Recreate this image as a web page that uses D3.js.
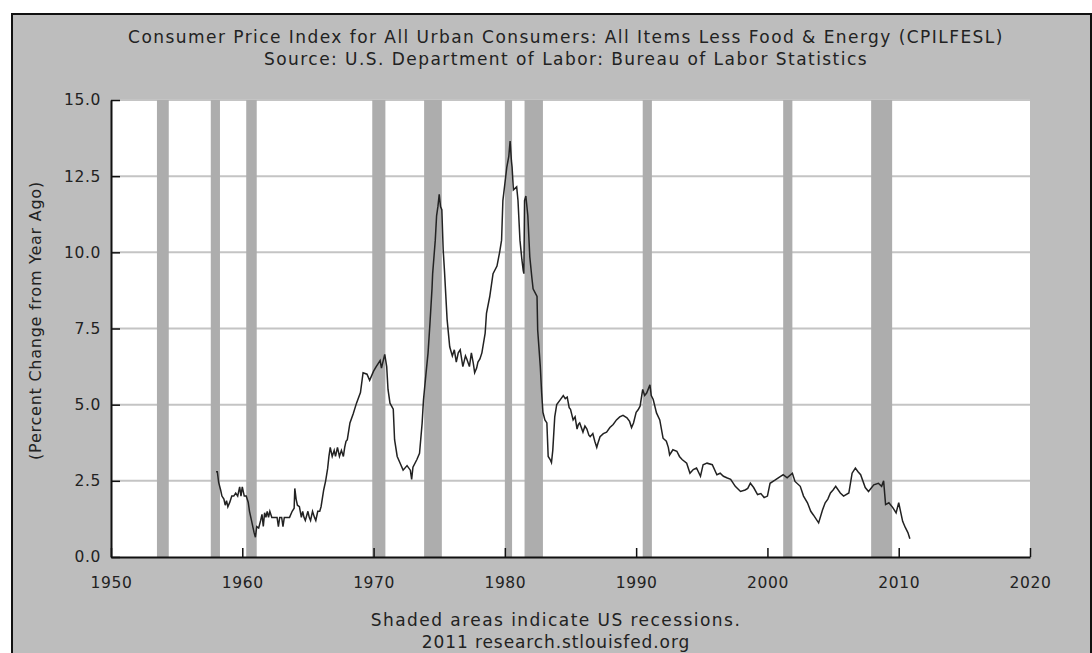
<!DOCTYPE html>
<html>
<head>
<meta charset="utf-8">
<script src="https://cdn.jsdelivr.net/npm/d3@7"></script>
<style>
  html, body { margin: 0; padding: 0; background: #ffffff; }
  svg { display: block; }
  text { font-family: "DejaVu Sans", Verdana, sans-serif; fill: #222; }
</style>
</head>
<body>
<svg id="chart" width="1092" height="653"></svg>
<script>
// ---- Data ----
const titleLines = [
  "Consumer Price Index for All Urban Consumers: All Items Less Food & Energy (CPILFESL)",
  "Source: U.S. Department of Labor: Bureau of Labor Statistics"
];
const footerLines = ["Shaded areas indicate US recessions.", "2011 research.stlouisfed.org"];
const yAxisLabel = "(Percent Change from Year Ago)";

const xTicks = [1950, 1960, 1970, 1980, 1990, 2000, 2010, 2020];
const yTicks = [0, 2.5, 5, 7.5, 10, 12.5, 15];

// US recessions (start, end) in decimal years
const recessionStart = [1953.5, 1957.6, 1960.3, 1969.9, 1973.85, 1980.0, 1981.5, 1990.5, 2001.2, 2007.9];
const recessionEnd   = [1954.4, 1958.3, 1961.1, 1970.9, 1975.2, 1980.55, 1982.9, 1991.2, 2001.9, 2009.5];

// Series: decimal date and percent change from year ago
const dates = [
  1958.0,1958.1,1958.2,1958.35,1958.45,1958.6,1958.7,1958.8,1958.9,1959.05,1959.2,1959.35,1959.5,1959.65,1959.8,1959.9,
  1960.0,1960.15,1960.3,1960.45,1960.55,1960.7,1960.8,1960.9,1961.0,1961.1,1961.25,1961.4,1961.5,1961.6,1961.7,1961.8,1961.9,
  1962.0,1962.1,1962.25,1962.5,1962.65,1962.75,1962.85,1963.0,1963.1,1963.2,1963.4,1963.6,1963.8,1963.95,
  1964.0,1964.1,1964.2,1964.35,1964.5,1964.6,1964.7,1964.8,1965.0,1965.1,1965.2,1965.35,1965.5,1965.6,1965.75,1965.9,
  1966.0,1966.2,1966.35,1966.5,1966.6,1966.7,1966.85,1967.0,1967.1,1967.25,1967.4,1967.55,1967.7,1967.8,1967.9,
  1968.0,1968.2,1968.45,1968.7,1969.0,1969.2,1969.5,1969.7,1970.0,1970.2,1970.5,1970.6,1970.85,1971.0,1971.1,1971.25,1971.5,1971.6,1971.8,1971.9,
  1972.0,1972.25,1972.55,1972.8,1972.9,1973.0,1973.3,1973.5,1973.7,1973.8,1974.0,1974.15,1974.3,1974.45,1974.5,1974.7,1974.8,1974.9,
  1975.0,1975.1,1975.2,1975.3,1975.4,1975.6,1975.8,1976.0,1976.15,1976.3,1976.45,1976.6,1976.8,1977.0,1977.1,1977.3,1977.45,1977.6,1977.7,1977.85,1977.95,
  1978.1,1978.25,1978.5,1978.6,1978.85,1979.1,1979.4,1979.6,1979.75,1979.85,1980.0,1980.15,1980.3,1980.4,1980.5,1980.55,1980.65,1980.9,
  1981.0,1981.15,1981.3,1981.4,1981.45,1981.5,1981.6,1981.75,1981.9,1982.05,1982.15,1982.45,1982.5,1982.7,1982.8,1982.9,
  1983.05,1983.2,1983.3,1983.45,1983.55,1983.65,1983.8,1983.95,1984.2,1984.45,1984.6,1984.75,1984.9,
  1985.0,1985.2,1985.35,1985.5,1985.6,1985.7,1985.95,1986.1,1986.25,1986.4,1986.5,1986.7,1986.85,
  1987.0,1987.1,1987.25,1987.5,1987.75,1988.0,1988.25,1988.5,1988.75,1989.0,1989.3,1989.5,1989.65,1989.8,
  1990.0,1990.15,1990.3,1990.5,1990.65,1990.8,1991.05,1991.15,1991.3,1991.55,1991.8,1992.05,1992.3,1992.45,1992.55,1992.8,
  1993.1,1993.3,1993.5,1993.85,1994.1,1994.35,1994.6,1994.9,1995.1,1995.4,1995.8,1996.15,1996.4,1996.65,1996.9,
  1997.2,1997.55,1997.95,1998.3,1998.5,1998.7,1998.95,1999.25,1999.5,1999.75,2000.0,2000.2,2000.6,2001.0,2001.2,2001.5,2001.9,
  2002.1,2002.5,2002.75,2003.05,2003.3,2003.5,2003.9,2004.2,2004.4,2004.6,2004.8,2005.0,2005.2,2005.55,2005.8,
  2006.2,2006.45,2006.7,2006.9,2007.1,2007.45,2007.7,2008.1,2008.45,2008.7,2008.85,2009.0,2009.25,2009.55,2009.8,
  2010.0,2010.3,2010.5,2010.7,2010.85
];
const values = [
  2.8,2.8,2.45,2.2,2.0,1.9,1.7,1.85,1.65,1.8,2.0,2.0,2.1,2.0,2.3,2.0,
  2.3,2.0,2.0,1.8,1.5,1.2,1.0,0.8,0.65,1.0,0.95,1.2,1.4,1.0,1.45,1.3,1.5,
  1.3,1.5,1.3,1.3,1.3,1.0,1.3,1.3,1.0,1.3,1.3,1.3,1.5,1.6,
  2.25,1.9,1.7,1.65,1.3,1.5,1.3,1.2,1.5,1.3,1.2,1.5,1.3,1.2,1.5,1.5,
  1.65,2.2,2.5,2.9,3.3,3.6,3.3,3.5,3.3,3.6,3.3,3.5,3.3,3.6,3.8,
  3.85,4.4,4.7,5.05,5.4,6.05,6.0,5.8,6.1,6.25,6.45,6.2,6.65,6.25,5.5,5.05,4.85,3.85,3.3,3.2,
  3.1,2.85,3.0,2.85,2.55,2.95,3.2,3.4,4.4,5.15,6.05,6.7,7.7,8.8,9.3,10.4,11.2,11.5,
  11.9,11.5,11.4,10.1,9.4,7.8,6.9,6.6,6.8,6.4,6.7,6.8,6.25,6.6,6.5,6.25,6.7,6.35,6.05,6.2,6.4,
  6.5,6.7,7.35,8.0,8.55,9.3,9.55,10.0,10.4,11.7,12.25,12.8,13.15,13.65,13.0,12.8,12.05,12.15,
  11.7,10.4,9.75,9.4,9.3,11.7,11.85,11.2,9.85,9.2,8.8,8.55,7.45,6.25,5.4,4.75,
  4.5,4.4,3.3,3.2,3.1,3.5,4.6,5.0,5.15,5.3,5.2,5.25,4.9,
  4.85,4.5,4.6,4.2,4.35,4.4,4.1,4.3,4.2,4.0,3.95,4.05,3.8,
  3.6,3.75,3.95,4.05,4.1,4.25,4.35,4.5,4.6,4.65,4.57,4.45,4.25,4.4,
  4.75,4.83,4.95,5.5,5.3,5.38,5.65,5.3,5.17,4.73,4.5,3.9,3.8,3.6,3.35,3.52,
  3.47,3.3,3.2,3.08,2.75,2.87,2.92,2.65,3.03,3.08,3.03,2.7,2.75,2.65,2.6,
  2.55,2.32,2.15,2.2,2.25,2.42,2.28,2.05,2.08,1.95,2.0,2.42,2.53,2.65,2.7,2.6,2.75,
  2.48,2.32,2.0,1.78,1.5,1.38,1.12,1.55,1.78,1.9,2.1,2.2,2.32,2.1,2.0,
  2.1,2.75,2.92,2.8,2.7,2.28,2.15,2.37,2.42,2.32,2.5,1.72,1.78,1.62,1.45,
  1.78,1.17,0.97,0.8,0.6
];

// ---- Drawing ----
const svg = d3.select("#chart");
const W = 1092, H = 653;
const plot = { left: 111, right: 1030, top: 100, bottom: 557 };

// outer panel
svg.append("rect")
  .attr("x", 12).attr("y", 14).attr("width", W - 13).attr("height", H)
  .attr("fill", "#bdbdbd").attr("stroke", "#111").attr("stroke-width", 2);

const x = d3.scaleLinear().domain([1950, 2020]).range([plot.left, plot.right]);
const y = d3.scaleLinear().domain([0, 15]).range([plot.bottom, plot.top]);

// plot background
svg.append("rect")
  .attr("x", plot.left).attr("y", plot.top)
  .attr("width", plot.right - plot.left).attr("height", plot.bottom - plot.top)
  .attr("fill", "#ffffff");

// gridlines
svg.append("g").selectAll("line").data(yTicks.filter(d => d > 0)).join("line")
  .attr("x1", plot.left).attr("x2", plot.right)
  .attr("y1", d => y(d)).attr("y2", d => y(d))
  .attr("stroke", "#c4c4c4").attr("stroke-width", 2);

// recession bands
svg.append("g").selectAll("rect").data(recessionStart.map((s, i) => [s, recessionEnd[i]])).join("rect")
  .attr("x", d => x(d[0])).attr("width", d => x(d[1]) - x(d[0]))
  .attr("y", plot.top).attr("height", plot.bottom - plot.top)
  .attr("fill", "#adadad");

// line
const pts = dates.map((d, i) => [d, values[i]]);
svg.append("path")
  .datum(pts)
  .attr("fill", "none").attr("stroke", "#222").attr("stroke-width", 1.5)
  .attr("stroke-linejoin", "miter")
  .attr("d", d3.line().x(d => x(d[0])).y(d => y(d[1])));

// axes
const yAxis = svg.append("g").attr("transform", `translate(${plot.left},0)`)
  .call(d3.axisLeft(y).tickValues(yTicks).tickFormat(d3.format(".1f")).tickSizeInner(-9).tickSizeOuter(0).tickPadding(20));
const xAxis = svg.append("g").attr("transform", `translate(0,${plot.bottom})`)
  .call(d3.axisBottom(x).tickValues(xTicks).tickFormat(d3.format("d")).tickSizeInner(-9).tickSizeOuter(0).tickPadding(20));

[yAxis, xAxis].forEach(a => {
  a.select(".domain").attr("stroke", "#111").attr("stroke-width", 2);
  a.selectAll(".tick line").attr("stroke", "#111").attr("stroke-width", 1.5);
  a.selectAll("text").attr("font-family", "DejaVu Sans, Verdana, sans-serif")
    .attr("font-size", 15.5).attr("letter-spacing", 0.6).attr("fill", "#222");
});
yAxis.selectAll("text").attr("x", -10);
xAxis.selectAll("text").attr("y", 20);

// titles
svg.append("g").selectAll("text").data(titleLines).join("text")
  .attr("x", 566).attr("y", (d, i) => 43 + i * 22)
  .attr("text-anchor", "middle").attr("font-size", 17).attr("letter-spacing", 1.45)
  .text(d => d);

svg.append("g").selectAll("text").data(footerLines).join("text")
  .attr("x", 556).attr("y", (d, i) => 626 + i * 22)
  .attr("text-anchor", "middle").attr("font-size", 17).attr("letter-spacing", (d, i) => i === 0 ? 1.45 : 0.9)
  .text(d => d);

svg.append("text")
  .attr("transform", `translate(41,${(plot.top + plot.bottom) / 2 - 8}) rotate(-90)`)
  .attr("text-anchor", "middle").attr("font-size", 16).attr("letter-spacing", 0.75)
  .text(yAxisLabel);
</script>
</body>
</html>
